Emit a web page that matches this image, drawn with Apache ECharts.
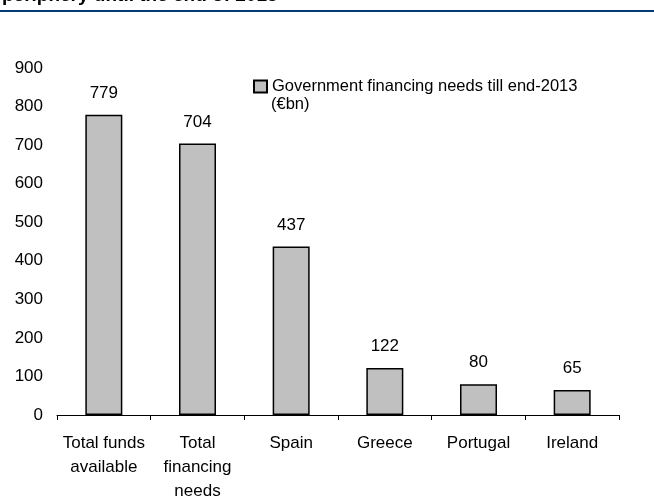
<!DOCTYPE html>
<html><head><meta charset="utf-8">
<script src="https://cdn.jsdelivr.net/npm/echarts@6/dist/echarts.min.js"></script>
<style>html,body{margin:0;padding:0;background:#fff}#c{width:654px;height:504px}</style>
</head><body><div id="c"></div>
<script>
const categories = ['Total funds\navailable', 'Total\nfinancing\nneeds', 'Spain', 'Greece', 'Portugal', 'Ireland'];
const values = [779, 704, 437, 122, 80, 65];
const seriesName = 'Government financing needs till end-2013';
const seriesUnit = '(€bn)';
const titleText = 'periphery until the end of 2013';
const yTicks = { min: 0, max: 900, interval: 100 };

const FONT = '"Liberation Sans", Arial, sans-serif';
const chart = echarts.init(document.getElementById('c'));
chart.setOption({
  animation: false,
  backgroundColor: '#fff',
  graphic: [
    { type: 'text', left: 2, top: -14, style: { text: titleText, font: 'bold 19px "Liberation Sans", Arial, sans-serif', fill: '#000' } },
    { type: 'rect', left: 0, top: 10, shape: { width: 654, height: 2 }, style: { fill: '#003a70' } },
    { type: 'text', left: 271, top: 96, style: { text: seriesUnit, font: '16.5px "Liberation Sans", Arial, sans-serif', fill: '#000' } }
  ],
  legend: {
    left: 253, top: 78, padding: 0, itemWidth: 13, itemHeight: 12,
    icon: 'rect',
    textStyle: { fontFamily: FONT, fontSize: 16.5, color: '#000' },
    data: [seriesName]
  },
  grid: { left: 57, right: 35, top: 68, bottom: 89, containLabel: false },
  xAxis: {
    type: 'category', data: categories,
    axisLine: { lineStyle: { color: '#000', width: 1 } },
    axisTick: { show: true, length: 5, inside: false, lineStyle: { color: '#000' } },
    axisLabel: { fontFamily: FONT, fontSize: 17, color: '#000', margin: 16, lineHeight: 24, interval: 0 }
  },
  yAxis: {
    type: 'value', min: yTicks.min, max: yTicks.max, interval: yTicks.interval,
    axisLine: { show: false }, axisTick: { show: false }, splitLine: { show: false },
    axisLabel: { fontFamily: FONT, fontSize: 17, color: '#000', margin: 14 }
  },
  series: [{
    name: seriesName, type: 'bar', data: values, barWidth: 37,
    itemStyle: { color: '#c0c0c0', borderColor: '#000', borderWidth: 1.5 },
    label: { show: true, position: 'top', distance: 13, fontFamily: FONT, fontSize: 17, color: '#000' }
  }]
});
</script></body></html>
